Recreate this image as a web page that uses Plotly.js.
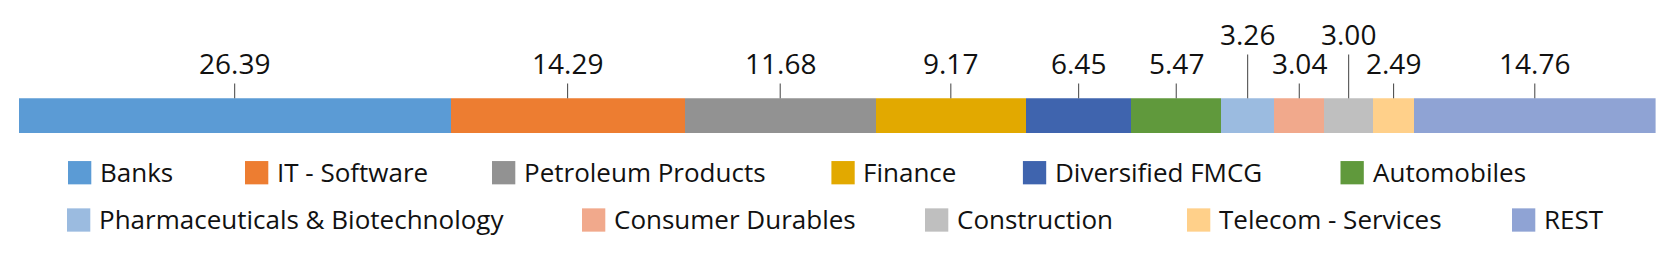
<!DOCTYPE html>
<html>
<head>
<meta charset="utf-8">
<script src="https://cdn.plot.ly/plotly-3.0.1.min.js"></script>
<style>
  html, body { margin: 0; padding: 0; background: #ffffff; }
  #chart { width: 1673px; height: 261px; }
</style>
</head>
<body>
<div id="chart"></div>
<script>
// ---- Data ----
const sectors = [
  'Banks', 'IT - Software', 'Petroleum Products', 'Finance', 'Diversified FMCG',
  'Automobiles', 'Pharmaceuticals & Biotechnology', 'Consumer Durables',
  'Construction', 'Telecom - Services', 'REST'
];
const weights = [26.39, 14.29, 11.68, 9.17, 6.45, 5.47, 3.26, 3.04, 3.00, 2.49, 14.76];

// ---- Styles / layout settings ----
const colors = [
  '#5B9BD5', '#ED7D31', '#929292', '#E2A900', '#3F64AE',
  '#60993C', '#9BBBE0', '#F1A98C', '#BFBFBF', '#FFD08A', '#8FA3D4'
];
const raisedLabels = ['Pharmaceuticals & Biotechnology', 'Construction'];

const W = 1673, H = 261;
const plotLeft = 18.7, plotRight = 1655.6, barTop = 98.3, barBottom = 133;
const fontFamily = '"Open Sans", "Noto Sans", sans-serif';
const textColor = '#111111';

// legend layout: rows of sector indices and the left pixel of each swatch
const legendRows = [
  { y: 172.7, items: [0, 1, 2, 3, 4, 5], left: [68, 245, 492, 831.4, 1022.9, 1340.5] },
  { y: 220.0, items: [6, 7, 8, 9, 10], left: [67, 582, 925, 1187, 1512] }
];
const swatch = 23.3;
const textOffset = 30;

// ---- Traces ----
const traces = sectors.map((name, i) => ({
  type: 'bar',
  orientation: 'h',
  name: name,
  x: [weights[i]],
  y: [0],
  width: 1,
  marker: { color: colors[i], line: { width: 0 } },
  hoverinfo: 'name+x',
  showlegend: false
}));

// ---- Value labels with leader lines ----
const annotations = [];
let cum = 0;
sectors.forEach((name, i) => {
  const mid = cum + weights[i] / 2;
  cum += weights[i];
  const raised = raisedLabels.includes(name);
  annotations.push({
    x: mid, y: 0.5, xref: 'x', yref: 'y',
    text: weights[i].toFixed(2),
    showarrow: true, arrowhead: 0, arrowwidth: 1, arrowcolor: '#404040',
    ax: 0, ay: raised ? -(barTop - 34) : -(barTop - 63),
    standoff: 0, startstandoff: 0,
    font: { family: fontFamily, size: 28, color: textColor },
    borderpad: 1
  });
});

// ---- Legend (swatches + text) ----
const shapes = [];
legendRows.forEach(row => {
  row.items.forEach((idx, k) => {
    const left = row.left[k];
    shapes.push({
      type: 'rect', xref: 'paper', yref: 'paper',
      x0: left / W, x1: (left + swatch) / W,
      y0: 1 - (row.y + swatch / 2) / H, y1: 1 - (row.y - swatch / 2) / H,
      fillcolor: colors[idx], line: { width: 0 }
    });
    annotations.push({
      xref: 'paper', yref: 'paper',
      x: (left + textOffset) / W, y: 1 - (row.y - 1) / H,
      xanchor: 'left', yanchor: 'middle',
      text: sectors[idx], showarrow: false,
      font: { family: fontFamily, size: 26, color: textColor }
    });
  });
});

const layout = {
  width: W, height: H,
  margin: { l: 0, r: 0, t: 0, b: 0, pad: 0 },
  paper_bgcolor: '#ffffff', plot_bgcolor: '#ffffff',
  barmode: 'stack',
  bargap: 0,
  showlegend: false,
  xaxis: {
    domain: [plotLeft / W, plotRight / W],
    range: [0, 100], visible: false, fixedrange: true
  },
  yaxis: {
    domain: [1 - barBottom / H, 1 - barTop / H],
    range: [-0.5, 0.5], visible: false, fixedrange: true
  },
  annotations: annotations,
  shapes: shapes,
  font: { family: fontFamily, color: textColor }
};

Plotly.newPlot('chart', traces, layout, { displayModeBar: false, staticPlot: true });
</script>
</body>
</html>
